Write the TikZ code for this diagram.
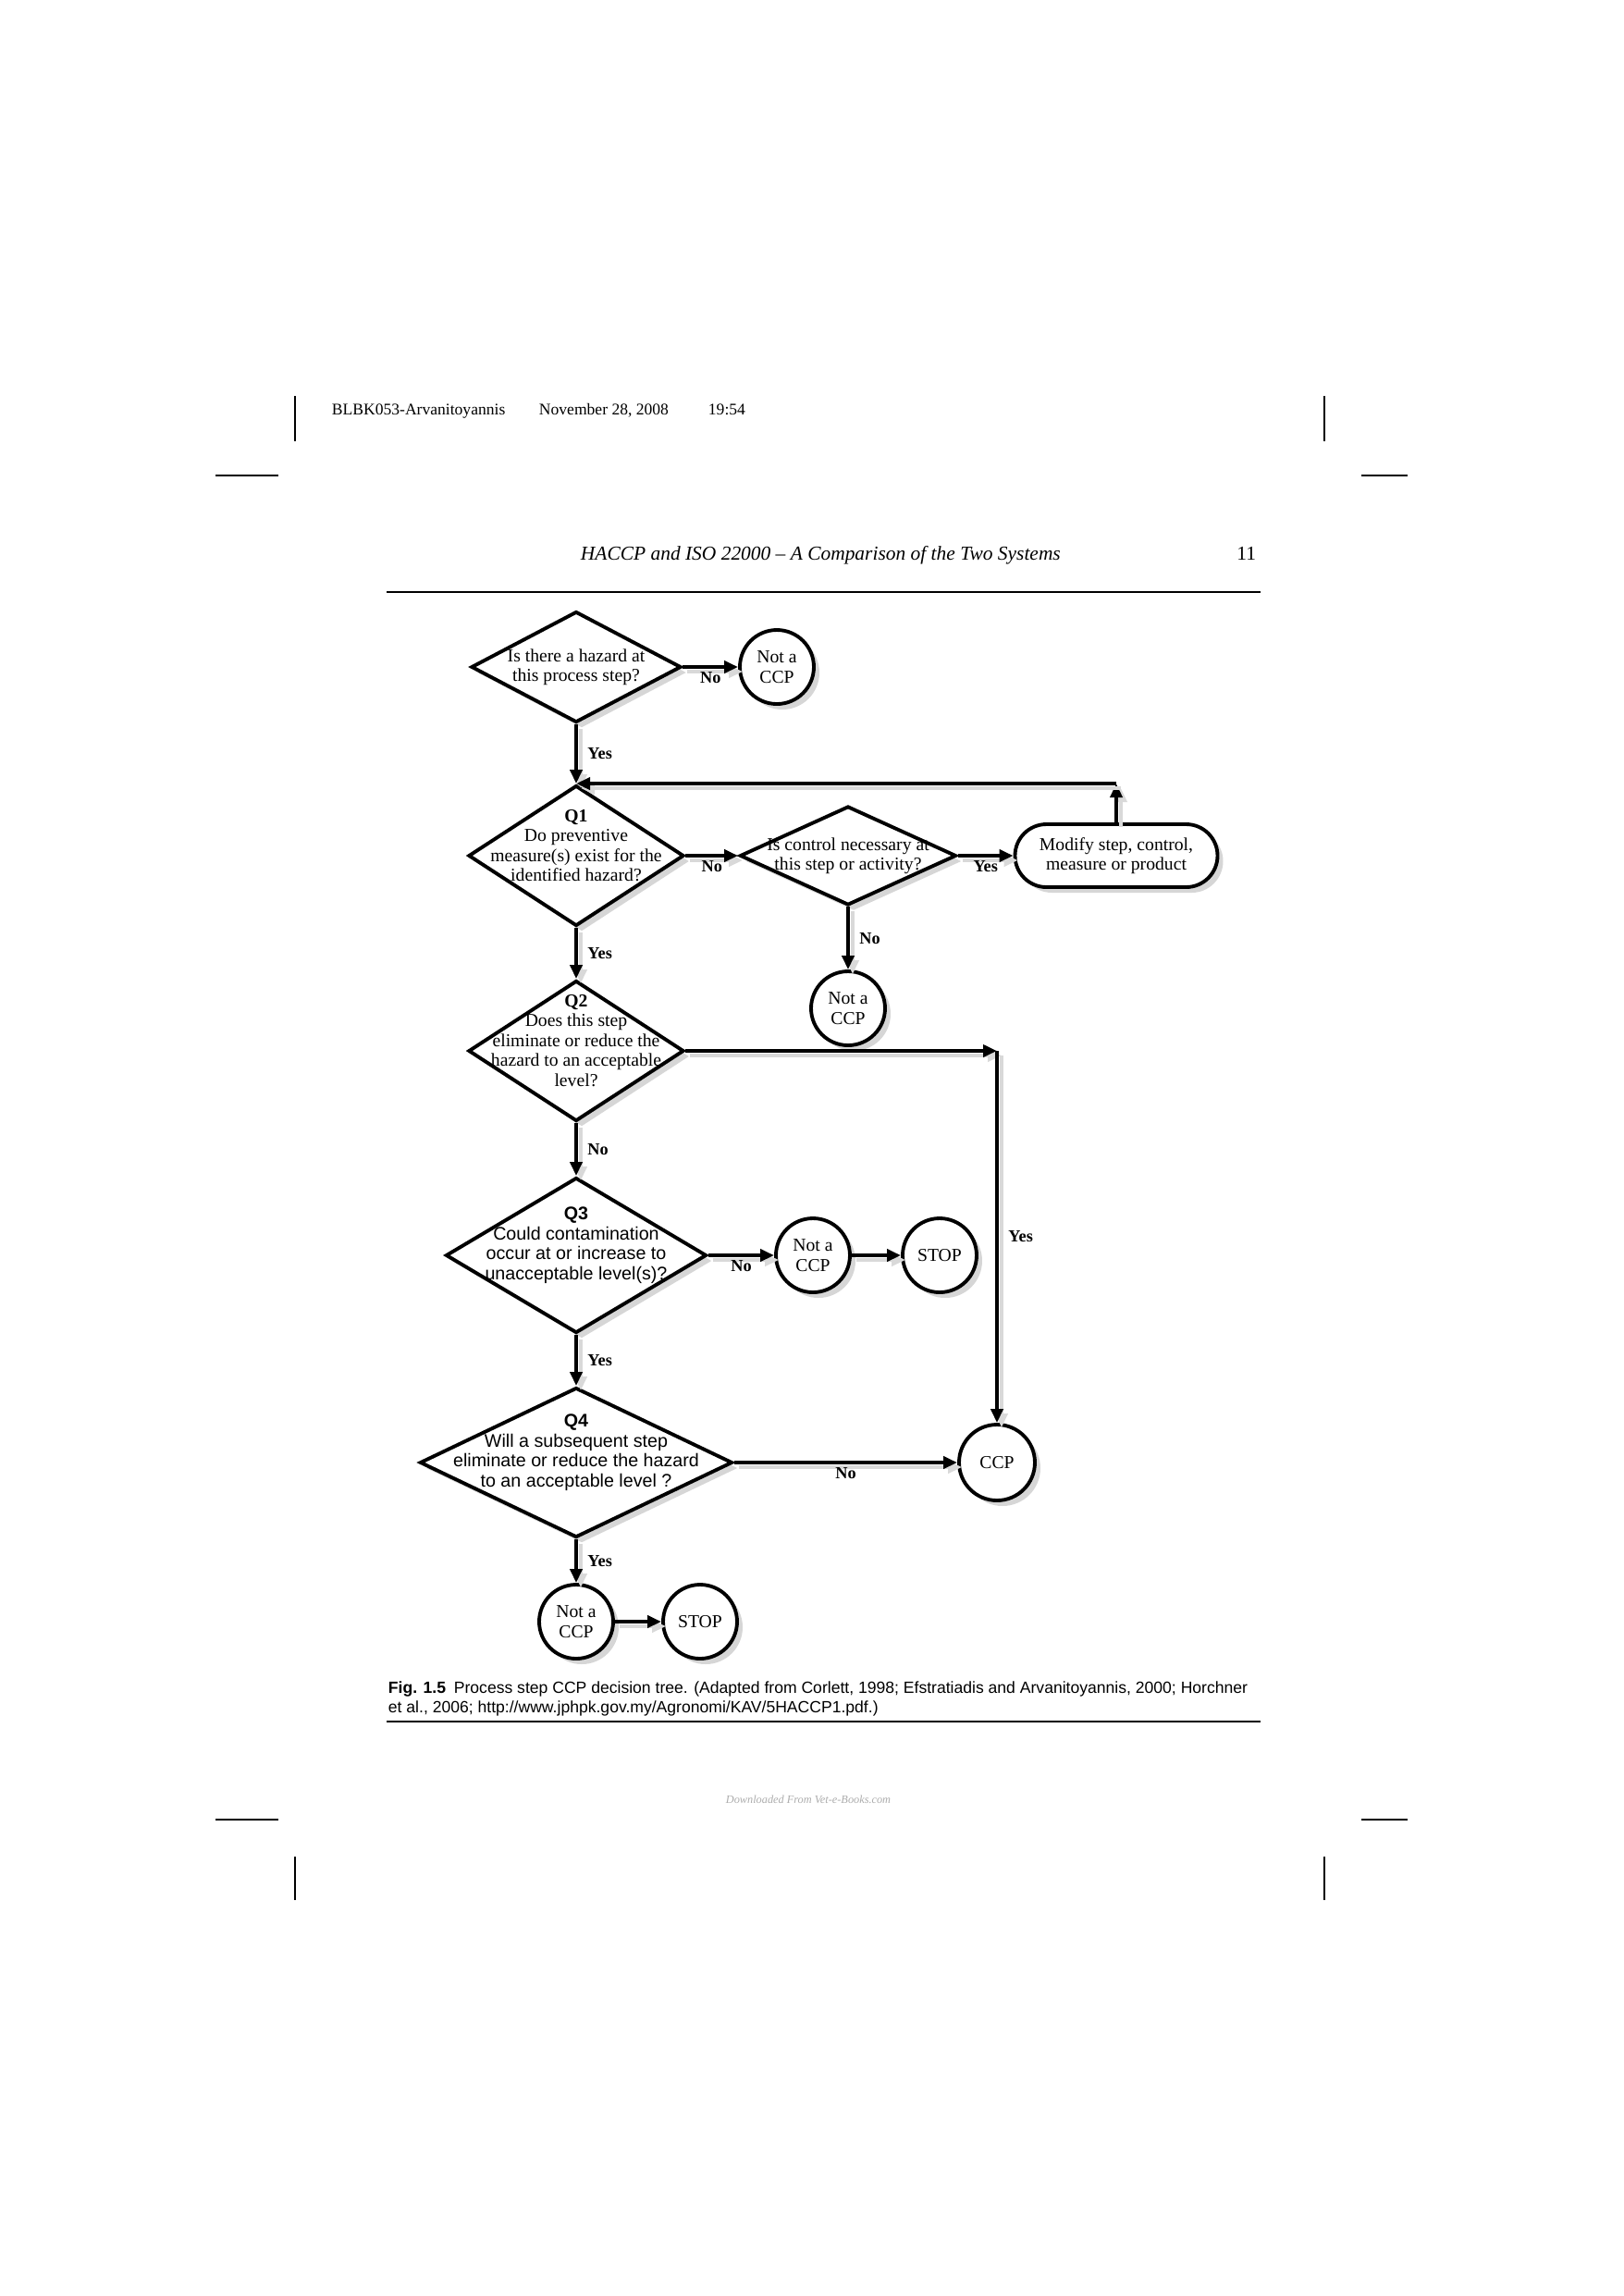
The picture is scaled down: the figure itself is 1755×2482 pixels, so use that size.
\documentclass[tikz,border=0pt]{standalone}
\usepackage{fontspec}
\setmainfont{Liberation Serif}
\setsansfont{Liberation Sans}
\usetikzlibrary{arrows.meta,positioning,shapes.geometric,shadows}

\newcommand{\boxfont}{\fontsize{5.6}{6.1}\selectfont}
\newcommand{\sboxfont}{\sffamily\fontsize{5.6}{6.1}\selectfont}
\newcommand{\ansfont}{\bfseries\fontsize{5.2}{6}\selectfont}
\newcommand{\capfont}{\sffamily\fontsize{5}{6}\selectfont}
\newcommand{\headfont}{\fontsize{5}{6}\selectfont}

\tikzset{
  shade/.style={drop shadow={shadow xshift=0.6mm, shadow yshift=-0.6mm, fill=black!16, opacity=1}},
  decision/.style={diamond, draw, fill=white, inner sep=0pt, line width=1.1pt, shade},
  endpt/.style={circle, draw, fill=white, inner sep=0pt, minimum size=8mm, align=center,
    font=\boxfont, line width=1.1pt, shade},
  action/.style={rectangle, rounded corners=3.4mm, draw, fill=white, inner sep=0pt,
    minimum width=21.9mm, minimum height=6.8mm, align=center, font=\boxfont, line width=1.1pt, shade},
  dtext/.style={align=center, font=\boxfont, inner sep=0pt},
  qtext/.style={dtext, yshift=1.1mm},
  ans/.style={font=\ansfont, inner sep=1pt},
  conn/.style={preaction={draw=black!15, transform canvas={shift={(0.5mm,-0.5mm)}}}},
  rule/.style={-, line width=0.45pt},
  pagetext/.style={inner sep=0pt, anchor=base west},
}

\begin{document}
\begin{tikzpicture}[x=0.1mm, y=-0.1mm, ->, >={Triangle[length=1.5mm,width=1.3mm]}, line width=1.1pt]
	\path[use as bounding box, fill=white] (0,0) rectangle (1755,2482);

	% page furniture
	\draw[rule] (319,428) -- (319,477);
	\draw[rule] (1432,428) -- (1432,477);
	\draw[rule] (233,514) -- (301,514);
	\draw[rule] (1472,514) -- (1522,514);
	\draw[rule] (233,1967) -- (301,1967);
	\draw[rule] (1472,1967) -- (1522,1967);
	\draw[rule] (319,2007) -- (319,2054);
	\draw[rule] (1432,2007) -- (1432,2054);
	\node[pagetext, font=\headfont] (slug1) at (357,448) {BLBK053-Arvanitoyannis};
	\node[pagetext, font=\headfont] (slug2) at (581,448) {November 28, 2008};
	\node[pagetext, font=\headfont] (slug3) at (764,448) {19:54};
	\node[pagetext, font=\itshape\fontsize{6.1}{7}\selectfont] (runhead) at (626,605)
		{HACCP and ISO 22000 -- A Comparison of the Two Systems};
	\node[pagetext, anchor=base east, font=\fontsize{6.1}{7}\selectfont] (folio) at (1360,605) {11};
	\draw[rule] (418,640) -- (1363,640);

	% decision tree
	\node[decision, minimum width=22.7mm, minimum height=12mm,
		label={[dtext]center:{Is there a hazard at\\this process step?}}] (q0) at (623,721) {};
	\node[endpt] (n0) at (840,721) {Not a\\CCP};
	\node[decision, minimum width=23.3mm, minimum height=15.2mm,
		label={[qtext]center:{\textbf{Q1}\\Do preventive\\measure(s) exist for the\\identified hazard?}}] (q1) at (623,925) {};
	\node[decision, minimum width=23.4mm, minimum height=10.7mm,
		label={[dtext]center:{Is control necessary at\\this step or activity?}}] (c1) at (917,925) {};
	\node[action] (m1) at (1207,925) {Modify step, control,\\measure or product};
	\node[endpt] (n1) at (917,1090) {Not a\\CCP};
	\node[decision, minimum width=23.3mm, minimum height=15.2mm,
		label={[qtext]center:{\textbf{Q2}\\Does this step\\eliminate or reduce the\\hazard to an acceptable\\level?}}] (q2) at (623,1136) {};
	\node[decision, minimum width=28.2mm, minimum height=16.8mm,
		label={[qtext, font=\sboxfont]center:{\textbf{Q3}\\Could contamination\\occur at or increase to\\unacceptable level(s)?}}] (q3) at (623,1357) {};
	\node[endpt] (n3) at (879,1357) {Not a\\CCP};
	\node[endpt] (s3) at (1016,1357) {STOP};
	\node[decision, minimum width=33.8mm, minimum height=16.2mm,
		label={[qtext, font=\sboxfont]center:{\textbf{Q4}\\Will a subsequent step\\eliminate or reduce the hazard\\to an acceptable level ?}}] (q4) at (623,1581) {};
	\node[endpt, minimum size=8.2mm] (ccp) at (1078,1581) {CCP};
	\node[endpt] (n4) at (623,1753) {Not a\\CCP};
	\node[endpt] (s4) at (757,1753) {STOP};

	% main column
	\path
		(q0) edge[conn] node[ans, below] {No} (n0)
		(q0) edge[conn] node[ans, right=2pt] {Yes} (q1)
		(q1) edge[conn] node[ans, below] {No} (c1)
		(c1) edge[conn] node[ans, below] {Yes} (m1)
		(c1) edge[conn] node[ans, right=2pt] {No} (n1)
		(q1) edge[conn] node[ans, right=2pt] {Yes} (q2)
		(q2) edge[conn] node[ans, right=2pt] {No} (q3)
		(q3) edge[conn] node[ans, below] {No} (n3)
		(n3) edge[conn] (s3)
		(q3) edge[conn] node[ans, right=2pt] {Yes} (q4)
		(q4) edge[conn] node[ans, below] {No} (ccp)
		(q4) edge[conn] node[ans, right=2pt] {Yes} (n4)
		(n4) edge[conn] (s4);
	% loop back and the Q2 branch
	\coordinate (fb) at (m1.north |- q1.north);
	\coordinate (k2) at (ccp.north |- q2.east);
	\draw[conn] (m1) -- (fb);
	\draw[conn] (fb) -- (q1.north);
	\draw[conn] (q2) -- (k2);
	\draw[conn] (k2) -- node[ans, right=2pt] {Yes} (ccp);

	% caption
	\node[pagetext, font=\capfont] (cap1) at (418,1830)
		{\textbf{Fig. 1.5}\enspace Process step CCP decision tree. (Adapted from Corlett, 1998; Efstratiadis and Arvanitoyannis, 2000; Horchner};
	\node[pagetext, font=\capfont] (cap2) at (418,1851)
		{et al., 2006; http://www.jphpk.gov.my/Agronomi/KAV/5HACCP1.pdf.)};
	\draw[rule] (418,1861) -- (1363,1861);
	\node[font=\itshape\fontsize{3.5}{4}\selectfont, text=black!32, inner sep=0pt] (wm) at (874,1945)
		{Downloaded From Vet-e-Books.com};
\end{tikzpicture}
\end{document}
